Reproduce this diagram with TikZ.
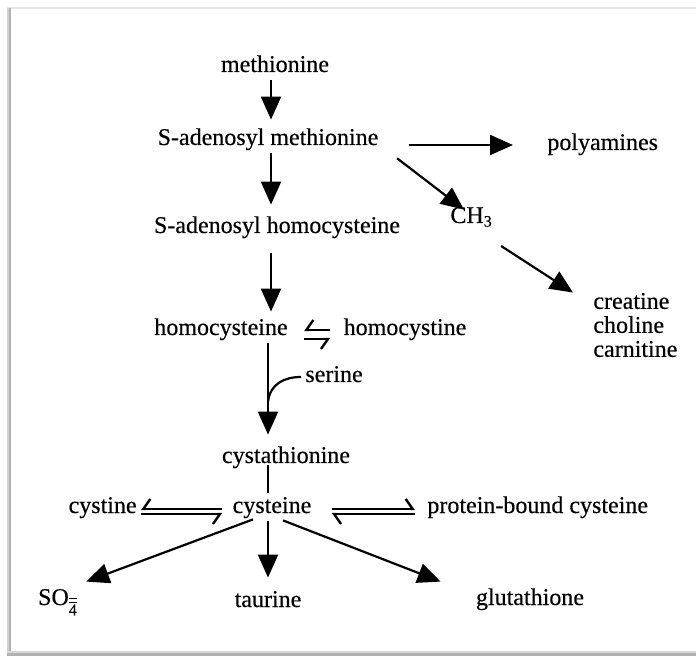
\documentclass[tikz,border=0pt]{standalone}
\usepackage{fontspec}
\setmainfont{Liberation Serif}[FakeBold=0.35]
\usetikzlibrary{arrows.meta}
\begin{document}
\begin{tikzpicture}[x=0.5pt,y=-0.5pt,
  every node/.style={font=\fontsize{12pt}{12pt}\selectfont, inner sep=2pt},
  lbl/.style={text height=7pt, text depth=2pt},
  arr/.style={line width=1.1pt, -{Triangle[length=11.5pt,width=10pt]}},
  plain/.style={line width=1.1pt},
  hpR/.style={line width=1pt, -{Straight Barb[right,length=3.5pt,width=10pt,line width=1.2pt]}},
  hpL/.style={line width=1pt, -{Straight Barb[left,length=3.5pt,width=10pt,line width=1.2pt]}}]
\useasboundingbox (0,0) rectangle (696,657);
% frame with soft shadow
\fill[white] (8,8) rectangle (696,652);
\fill[gray!18] (7,7) rectangle (696,9);
\fill[gray!35] (7,8) rectangle (8.5,652);
\fill[gray!60] (8.5,8) rectangle (10.5,652);
\fill[gray!30] (7,651) rectangle (696,653);
\fill[gray!60] (7,653) rectangle (696,656);

% column guides
\coordinate (colA) at (271,0);
\coordinate (colB) at (268,0);

% compounds
\node[lbl] (met)    at (275,67)  {methionine};
\node[lbl] (sam)    at (268,140) {S-adenosyl methionine};
\node[lbl] (sah)    at (277,228) {S-adenosyl homocysteine};
\node[lbl] (hcy)    at (221,330) {homocysteine};
\node[lbl] (hcyst)  at (405,330) {homocystine};
\node[lbl,anchor=west] (ser) at (301,377) {serine};
\node[lbl] (cysta)  at (286,458) {cystathionine};
\node[lbl] (cys)    at (272,508) {cysteine};
\node[lbl,anchor=east] (cystine) at (141,508) {cystine};
\node[lbl,anchor=west] (pbc) at (423,508) {protein-bound cysteine};
\node[lbl,anchor=west] (poly) at (543,145) {polyamines};
\node[lbl,anchor=west] (ch3)  at (446,218) {CH\textsubscript{3}};
\node[align=left,anchor=west,font=\fontsize{12pt}{12pt}\selectfont] (prod) at (589,325) {creatine\\choline\\carnitine};
\node[lbl] (so4)    at (58,600)  {SO\textsubscript{$\overline{\overline{\mbox{4}}}$}};
\node[lbl] (tau)    at (268,602) {taurine};
\node[lbl] (glu)    at (530,600) {glutathione};

% main pathway
\draw[arr, shorten >=3.5pt] (met.south -| colA) -- (sam.north -| colA);
\draw[arr, shorten >=5pt] (sam.south -| colA) -- (sah.north -| colA);
\draw[arr, shorten <=6pt, shorten >=2.5pt] (sah.south -| colA) -- (hcy.north -| colA);
\draw[arr, shorten >=5pt] (hcy.south -| colB) -- (cysta.north -| colB);
\coordinate (join) at (268,402);
\draw[plain] (ser.west) .. controls (284,377) and (270,384) .. (join);
\draw[plain, shorten <=-3pt, shorten >=1pt] (cysta.south -| colB) -- (cys.north -| colB);

% branches from S-adenosyl methionine
\draw[arr, shorten <=13pt, shorten >=15pt] (sam.east |- poly.west) -- (poly.west);
\draw[arr, shorten <=4pt] ([xshift=4pt]sam.south east) -- ([xshift=9pt,yshift=-2.5pt]ch3.north west);
\draw[arr] ([xshift=2pt,yshift=-14pt]ch3.east) -- ([xshift=-8pt,yshift=-2pt]prod.north west);

% reversible steps
\draw[hpR, shorten <=4.5pt, shorten >=6pt] (hcyst.west) -- (hcy.east);
\draw[hpR, shorten <=6pt, shorten >=4.5pt] ([yshift=-4.5pt]hcy.east) -- ([yshift=-4.5pt]hcyst.west);
\draw[hpR, shorten <=3pt] ([yshift=-0.5pt]cys.west) -- ([yshift=-0.5pt]cystine.east);
\draw[hpR, shorten >=3pt] ([yshift=-3pt]cystine.east) -- ([yshift=-3pt]cys.west);
\draw[hpL, shorten <=8pt, shorten >=4pt] ([yshift=-0.5pt]cys.east) -- ([yshift=-0.5pt]pbc.west);
\draw[hpL, shorten <=4pt, shorten >=8pt] ([yshift=-3pt]pbc.west) -- ([yshift=-3pt]cys.east);

% cysteine products
\draw[arr] ([xshift=-9.5pt,yshift=1pt]cys.south) -- ([xshift=2pt,yshift=2.5pt]so4.north east);
\draw[arr, shorten >=5.5pt] (cys.south -| colB) -- (tau.north -| colB);
\draw[arr] ([xshift=5.5pt,yshift=0.5pt]cys.south) -- ([xshift=-15.5pt,yshift=2.5pt]glu.north west);
\end{tikzpicture}
\end{document}
